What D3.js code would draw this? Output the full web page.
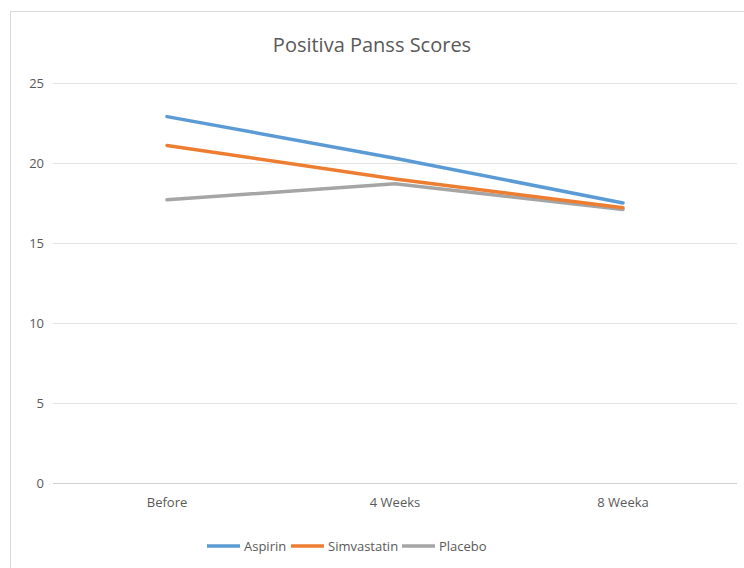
<!DOCTYPE html>
<html>
<head>
<meta charset="utf-8">
<script src="https://cdn.jsdelivr.net/npm/d3@7"></script>
<style>
  body { margin: 0; background: #fff; }
  text { font-family: "Open Sans", sans-serif; fill: #595959; }
</style>
</head>
<body>
<svg id="chart"></svg>
<script>
// chart data
var categories = ["Before", "4 Weeks", "8 Weeka"];
var seriesNames = ["Aspirin", "Simvastatin", "Placebo"];
var aspirin = [22.9, 20.3, 17.5];
var simvastatin = [21.1, 19.0, 17.2];
var placebo = [17.7, 18.7, 17.1];
var yTicks = [0, 5, 10, 15, 20, 25];
var colors = ["#5b9bd5", "#ed7d31", "#a5a5a5"];

var series = [aspirin, simvastatin, placebo];

var svg = d3.select("#chart")
    .attr("width", 744)
    .attr("height", 568);

// outer border
svg.append("rect")
    .attr("x", 10.5).attr("y", 11.5)
    .attr("width", 740).attr("height", 560)
    .attr("fill", "none")
    .attr("stroke", "#d9d9d9");

var margin = {top: 83, right: 7, bottom: 84, left: 53},
    width = 744 - margin.left - margin.right,
    height = 568 - margin.top - margin.bottom;

var x = d3.scaleBand().domain(categories).range([0, width]);
var y = d3.scaleLinear().domain([0, 25]).range([height - 1, 0]);

var g = svg.append("g")
    .attr("transform", "translate(" + margin.left + "," + margin.top + ")");

// gridlines
g.selectAll(".grid")
    .data(yTicks)
    .enter().append("line")
    .attr("class", "grid")
    .attr("x1", 0).attr("x2", width)
    .attr("y1", function(d) { return Math.round(y(d)) + 0.5; })
    .attr("y2", function(d) { return Math.round(y(d)) + 0.5; })
    .attr("stroke", function(d) { return d === 0 ? "#d0d0d0" : "#e3e3e3"; })
    .attr("stroke-width", 1);

// y labels
g.selectAll(".ylab")
    .data(yTicks)
    .enter().append("text")
    .attr("class", "ylab")
    .attr("x", -9)
    .attr("y", function(d) { return y(d); })
    .attr("dy", "0.35em")
    .attr("text-anchor", "end")
    .style("font-size", "13px")
    .text(function(d) { return d; });

// x labels
g.selectAll(".xlab")
    .data(categories)
    .enter().append("text")
    .attr("class", "xlab")
    .attr("x", function(d) { return x(d) + x.bandwidth() / 2; })
    .attr("y", height + 23)
    .attr("text-anchor", "middle")
    .style("font-size", "13px")
    .text(function(d) { return d; });

var line = d3.line()
    .x(function(d, i) { return x(categories[i]) + x.bandwidth() / 2; })
    .y(function(d) { return y(d); });

// draw placebo first so the others sit on top
[2, 1, 0].forEach(function(k) {
  g.append("path")
      .datum(series[k])
      .attr("fill", "none")
      .attr("stroke", colors[k])
      .attr("stroke-width", 3.5)
      .attr("stroke-linecap", "round")
      .attr("d", line);
});

// title
svg.append("text")
    .attr("x", 372)
    .attr("y", 52)
    .attr("text-anchor", "middle")
    .style("font-size", "20px")
    .text("Positiva Panss Scores");

// legend
var legend = svg.append("g").attr("transform", "translate(207,546)");
var offsets = [0, 84, 195];
seriesNames.forEach(function(name, i) {
  var lg = legend.append("g").attr("transform", "translate(" + offsets[i] + ",0)");
  lg.append("line")
      .attr("x1", 0).attr("x2", 33)
      .attr("y1", 0).attr("y2", 0)
      .attr("stroke", colors[i])
      .attr("stroke-width", 3.5);
  lg.append("text")
      .attr("x", 37)
      .attr("y", 0)
      .attr("dy", "0.35em")
      .style("font-size", "13px")
      .text(name);
});
</script>
</body>
</html>
